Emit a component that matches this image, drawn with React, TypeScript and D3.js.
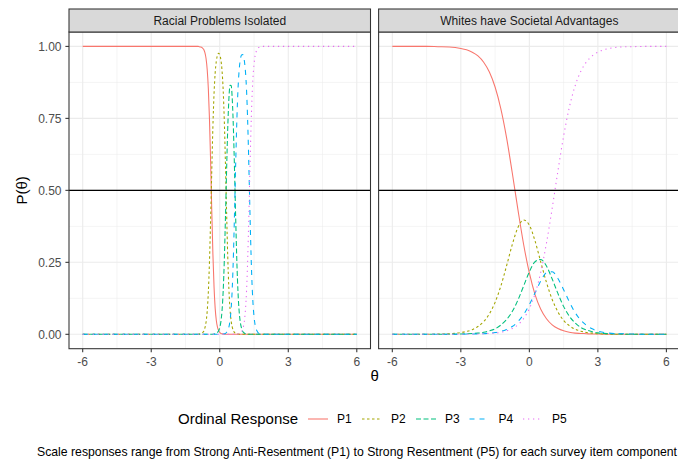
import React from "react";
import * as d3 from "d3";

// ---------- data ----------
const thetaLeft = [-6, -1, -0.95, -0.9, -0.85, -0.8, -0.75, -0.7, -0.65, -0.6, -0.55, -0.5, -0.45, -0.4, -0.35, -0.3, -0.25, -0.2, -0.15, -0.1, -0.05, 0, 0.05, 0.1, 0.15, 0.2, 0.25, 0.3, 0.35, 0.4, 0.45, 0.5, 0.55, 0.6, 0.65, 0.7, 0.75, 0.8, 0.85, 0.9, 0.95, 1, 1.05, 1.1, 1.15, 1.2, 1.25, 1.3, 1.35, 1.4, 1.45, 1.5, 1.55, 1.6, 1.65, 1.7, 1.75, 1.8, 1.85, 1.9, 1.95, 2, 6];

const p1Left = [1, 1, 1, 0.999, 0.998, 0.997, 0.994, 0.989, 0.978, 0.958, 0.92, 0.854, 0.748, 0.601, 0.432, 0.279, 0.164, 0.09, 0.048, 0.025, 0.013, 0.007, 0.003, 0.002, 0.001, 0,
  0, 0, 0, 0, 0, 0, 0, 0, 0, 0, 0, 0, 0, 0, 0, 0, 0, 0, 0, 0, 0, 0, 0, 0, 0, 0, 0, 0, 0, 0, 0, 0, 0, 0, 0, 0, 0];
const p2Left = [0, 0, 0, 0.001, 0.002, 0.003, 0.006, 0.011, 0.022, 0.042, 0.08, 0.146, 0.252, 0.399, 0.567, 0.721, 0.836, 0.908, 0.949, 0.969, 0.976, 0.971, 0.953, 0.916, 0.848, 0.74, 0.591, 0.422, 0.27, 0.158, 0.087, 0.046, 0.024, 0.012, 0.006, 0.003, 0.002, 0.001,
  0, 0, 0, 0, 0, 0, 0, 0, 0, 0, 0, 0, 0, 0, 0, 0, 0, 0, 0, 0, 0, 0, 0, 0, 0];
const p3Left = [0, 0, 0, 0, 0, 0, 0, 0, 0, 0, 0, 0, 0, 0, 0, 0,
  0.001, 0.002, 0.003, 0.006, 0.012, 0.023, 0.044, 0.082, 0.15, 0.258, 0.406, 0.571, 0.717, 0.817, 0.865, 0.864, 0.813, 0.709, 0.561, 0.396, 0.25, 0.145, 0.079, 0.042, 0.022, 0.011, 0.006, 0.003, 0.001, 0.001,
  0, 0, 0, 0, 0, 0, 0, 0, 0, 0, 0, 0, 0, 0, 0, 0, 0];
const p4Left = [0, 0, 0, 0, 0, 0, 0, 0, 0, 0, 0, 0, 0, 0, 0, 0, 0, 0, 0, 0, 0, 0, 0, 0,
  0.001, 0.002, 0.003, 0.007, 0.013, 0.025, 0.048, 0.09, 0.164, 0.278, 0.432, 0.6, 0.747, 0.853, 0.918, 0.954, 0.97, 0.972, 0.962, 0.935, 0.884, 0.795, 0.663, 0.5, 0.336, 0.204, 0.115, 0.062, 0.032, 0.017, 0.009, 0.004, 0.002, 0.001, 0.001,
  0, 0, 0, 0];
const p5Left = [0, 0, 0, 0, 0, 0, 0, 0, 0, 0, 0, 0, 0, 0, 0, 0, 0, 0, 0, 0, 0, 0, 0, 0, 0, 0, 0, 0, 0, 0, 0, 0, 0, 0, 0, 0,
  0.001, 0.001, 0.002, 0.004, 0.009, 0.017, 0.032, 0.062, 0.115, 0.204, 0.336, 0.5, 0.664, 0.796, 0.885, 0.938, 0.968, 0.983, 0.992, 0.996, 0.998, 0.999, 0.999, 1, 1, 1, 1];

const thetaRight = [-6, -5.5, -5, -4.5, -4, -3.5, -3, -2.75, -2.5, -2.25, -2, -1.75, -1.5, -1.25, -1, -0.75, -0.5, -0.25, 0, 0.25, 0.5, 0.75, 1, 1.25, 1.5, 1.75, 2, 2.25, 2.5, 2.75, 3, 3.5, 4, 4.5, 5, 5.5, 6];

const p1Right = [1, 1, 1, 1, 0.999, 0.998, 0.993, 0.988, 0.98, 0.967, 0.945, 0.911, 0.859, 0.784, 0.684, 0.562, 0.433, 0.312, 0.213, 0.138, 0.087, 0.054, 0.033, 0.02, 0.012, 0.007, 0.004, 0.003, 0.002, 0.001, 0.001, 0, 0, 0, 0, 0, 0];
const p2Right = [0, 0, 0, 0, 0.001, 0.002, 0.006, 0.01, 0.016, 0.027, 0.044, 0.071, 0.111, 0.167, 0.237, 0.311, 0.371, 0.397, 0.379, 0.324, 0.251, 0.18, 0.121, 0.078, 0.048, 0.03, 0.018, 0.011, 0.006, 0.004, 0.002, 0.001, 0, 0, 0, 0, 0];
const p3Right = [0, 0, 0, 0, 0, 0, 0.001, 0.002, 0.003, 0.004, 0.007, 0.012, 0.019, 0.032, 0.051, 0.079, 0.119, 0.168, 0.217, 0.252, 0.26, 0.237, 0.192, 0.142, 0.097, 0.063, 0.04, 0.024, 0.015, 0.009, 0.005, 0.002, 0.001, 0, 0, 0, 0];
const p4Right = [0, 0, 0, 0, 0, 0, 0, 0.001, 0.001, 0.001, 0.002, 0.004, 0.006, 0.01, 0.017, 0.027, 0.044, 0.069, 0.103, 0.144, 0.185, 0.214, 0.217, 0.194, 0.155, 0.113, 0.076, 0.049, 0.031, 0.019, 0.011, 0.004, 0.002, 0.001, 0, 0, 0];
const p5Right = [0, 0, 0, 0, 0, 0, 0, 0, 0.001, 0.001, 0.002, 0.003, 0.004, 0.007, 0.012, 0.02, 0.033, 0.055, 0.089, 0.141, 0.216, 0.317, 0.438, 0.567, 0.688, 0.788, 0.862, 0.913, 0.946, 0.967, 0.98, 0.993, 0.998, 0.999, 1, 1, 1];

const panelTitles = ["Racial Problems Isolated", "Whites have Societal Advantages"];
const responseLabels = ["P1", "P2", "P3", "P4", "P5"];
const xTicks = [-6, -3, 0, 3, 6];
const xMinor = [-4.5, -1.5, 1.5, 4.5];
const yTicks = [0, 0.25, 0.5, 0.75, 1];
const yTickLabels = ["0.00", "0.25", "0.50", "0.75", "1.00"];
const yMinor = [0.125, 0.375, 0.625, 0.875];
const refLine = 0.5;

// ---------- styles ----------
const colors = ["#F8766D", "#A3A500", "#00BF7D", "#00B0F6", "#E76BF3"];
const dashes = ["", "2.5,2.5", "5,2.5", "5,5", "1.25,3.75"];
const FONT = "'Liberation Sans', Arial, Helvetica, sans-serif";

const W = 678;
const H = 462;
const panelTop = 32;
const panelBottom = 348.7;
const stripTop = 9;
const panelXs: [number, number][] = [[69, 370.5], [378.6, 680.1]];

export default function App() {
  const y = d3.scaleLinear().domain([-0.05, 1.05]).range([panelBottom, panelTop]);
  const panelData = [
    { theta: thetaLeft, series: [p1Left, p2Left, p3Left, p4Left, p5Left] },
    { theta: thetaRight, series: [p1Right, p2Right, p3Right, p4Right, p5Right] },
  ];

  const legendY = 419;
  const legendKeys = [308, 362, 416, 469.5, 523];

  return (
    <svg width={W} height={H} style={{ position: "absolute", left: 0, top: 0, background: "#fff" }} fontFamily={FONT}>
      <rect x={0} y={0} width={W} height={H} fill="#fff" />
      {panelData.map((pd, pi) => {
        const [x0, x1] = panelXs[pi];
        const x = d3.scaleLinear().domain([-6.6, 6.6]).range([x0, x1]);
        const line = d3
          .line<number>()
          .x((_, i) => x(pd.theta[i]))
          .y((d) => y(d))
          .curve(d3.curveMonotoneX);
        return (
          <g key={pi}>
            <rect x={x0} y={panelTop} width={x1 - x0} height={panelBottom - panelTop} fill="#fff" />
            {xMinor.map((t) => (
              <line key={"xm" + t} x1={x(t)} x2={x(t)} y1={panelTop} y2={panelBottom} stroke="#EBEBEB" strokeWidth={0.55} />
            ))}
            {yMinor.map((t) => (
              <line key={"ym" + t} x1={x0} x2={x1} y1={y(t)} y2={y(t)} stroke="#EBEBEB" strokeWidth={0.55} />
            ))}
            {xTicks.map((t) => (
              <line key={"xg" + t} x1={x(t)} x2={x(t)} y1={panelTop} y2={panelBottom} stroke="#EBEBEB" strokeWidth={1.07} />
            ))}
            {yTicks.map((t) => (
              <line key={"yg" + t} x1={x0} x2={x1} y1={y(t)} y2={y(t)} stroke="#EBEBEB" strokeWidth={1.07} />
            ))}
            {pd.series.map((vals, si) => (
              <path
                key={"s" + si}
                d={line(vals) || ""}
                fill="none"
                stroke={colors[si]}
                strokeWidth={1.07}
                strokeDasharray={dashes[si] || undefined}
              />
            ))}
            <line x1={x0} x2={x1} y1={y(refLine)} y2={y(refLine)} stroke="#000" strokeWidth={1.07} />
            <rect x={x0} y={panelTop} width={x1 - x0} height={panelBottom - panelTop} fill="none" stroke="#333333" strokeWidth={1.07} />
            {/* strip */}
            <rect x={x0} y={stripTop} width={x1 - x0} height={panelTop - stripTop} fill="#D9D9D9" stroke="#333333" strokeWidth={1.07} />
            <text x={(x0 + x1) / 2} y={25} textAnchor="middle" fontSize={12} fill="#1A1A1A">
              {panelTitles[pi]}
            </text>
            {/* x axis */}
            {xTicks.map((t) => (
              <g key={"xt" + t}>
                <line x1={x(t)} x2={x(t)} y1={panelBottom} y2={panelBottom + 3.6} stroke="#333333" strokeWidth={1.07} />
                <text x={x(t)} y={366} textAnchor="middle" fontSize={12} fill="#4D4D4D">
                  {String(t)}
                </text>
              </g>
            ))}
            {pi === 0 &&
              yTicks.map((t, i) => (
                <g key={"yt" + t}>
                  <line x1={x0 - 3.6} x2={x0} y1={y(t)} y2={y(t)} stroke="#333333" strokeWidth={1.07} />
                  <text x={x0 - 7.5} y={y(t) + 4.2} textAnchor="end" fontSize={12} fill="#4D4D4D">
                    {yTickLabels[i]}
                  </text>
                </g>
              ))}
          </g>
        );
      })}
      {/* axis titles */}
      <text x={(panelXs[0][0] + panelXs[1][1]) / 2} y={381} textAnchor="middle" fontSize={15} fill="#000">
        θ
      </text>
      <text transform={`translate(27,${(panelTop + panelBottom) / 2}) rotate(-90)`} textAnchor="middle" fontSize={15} fill="#000">
        P(θ)
      </text>
      {/* legend */}
      <text x={178} y={legendY + 5.3} fontSize={15} fill="#000">
        Ordinal Response
      </text>
      {responseLabels.map((lab, i) => (
        <g key={lab}>
          <line
            x1={legendKeys[i]}
            x2={legendKeys[i] + 20}
            y1={legendY}
            y2={legendY}
            stroke={colors[i]}
            strokeWidth={1.07}
            strokeDasharray={dashes[i] || undefined}
          />
          <text x={legendKeys[i] + 29} y={legendY + 4.3} fontSize={12} fill="#000">
            {lab}
          </text>
        </g>
      ))}
      {/* caption */}
      <text x={677} y={456} textAnchor="end" fontSize={12.25} fill="#000">
        Scale responses range from Strong Anti-Resentment (P1) to Strong Resentment (P5) for each survey item component
      </text>
    </svg>
  );
}
